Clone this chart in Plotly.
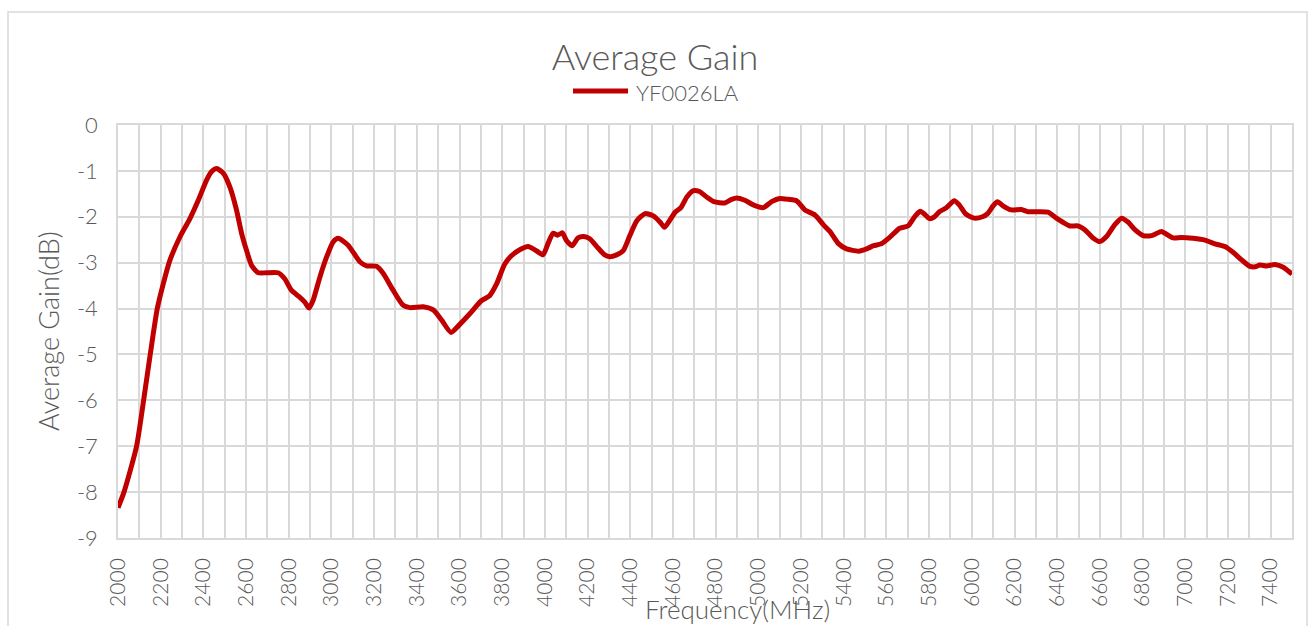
import plotly.graph_objects as go

freq_mhz = [2000, 2028, 2087, 2120, 2151, 2184, 2212, 2243, 2290, 2337, 2376, 2415, 2438, 2462,
            2493, 2524, 2555, 2579, 2602, 2626, 2657, 2696, 2750, 2781, 2812, 2851, 2875, 2895, 2914,
            2946, 2977, 3008, 3031, 3078, 3133, 3164, 3211, 3242, 3289, 3336, 3368, 3430, 3477, 3516,
            3560, 3600, 3647, 3702, 3741, 3773, 3812, 3843, 3882, 3921, 3960, 3991, 4014, 4038, 4060,
            4082, 4100, 4128, 4155, 4182, 4210, 4249, 4280, 4304, 4336, 4367, 4398, 4430, 4469, 4508,
            4540, 4560, 4579, 4610, 4637, 4665, 4696, 4724, 4758, 4792, 4843, 4875, 4898, 4937, 4976,
            5023, 5062, 5100, 5140, 5179, 5218, 5265, 5304, 5335, 5374, 5413, 5470, 5507, 5540, 5576,
            5615, 5662, 5701, 5732, 5758, 5778, 5801, 5825, 5848, 5879, 5918, 5941, 5972, 6011, 6050,
            6074, 6100, 6120, 6146, 6185, 6232, 6263, 6310, 6357, 6396, 6427, 6459, 6498, 6529, 6568,
            6600, 6631, 6670, 6702, 6733, 6764, 6803, 6842, 6889, 6912, 6943, 6982, 7037, 7092, 7139,
            7186, 7225, 7264, 7303, 7327, 7350, 7381, 7420, 7459, 7500]

gain_db = [-8.34, -8.0, -7.0, -6.0, -5.0, -4.0, -3.46, -2.95, -2.44, -2.04, -1.64, -1.2, -1.02, -0.95,
           -1.05, -1.35, -1.85, -2.36, -2.73, -3.06, -3.22, -3.22, -3.22, -3.35, -3.6, -3.75, -3.86, -3.99, -3.82,
           -3.31, -2.88, -2.55, -2.47, -2.62, -2.98, -3.07, -3.08, -3.23, -3.6, -3.93, -3.98, -3.96, -4.03, -4.25,
           -4.52, -4.35, -4.12, -3.83, -3.72, -3.47, -3.03, -2.85, -2.72, -2.65, -2.74, -2.83, -2.59, -2.36, -2.40,
           -2.35, -2.51, -2.63, -2.46, -2.43, -2.48, -2.68, -2.83, -2.87, -2.83, -2.74, -2.41, -2.09, -1.93, -1.98,
           -2.12, -2.23, -2.12, -1.9, -1.80, -1.57, -1.43, -1.45, -1.57, -1.67, -1.70, -1.62, -1.59, -1.64, -1.74,
           -1.80, -1.67, -1.60, -1.62, -1.65, -1.85, -1.96, -2.17, -2.32, -2.58, -2.70, -2.75, -2.70, -2.63, -2.59,
           -2.45, -2.25, -2.20, -2.0, -1.88, -1.94, -2.04, -2.0, -1.89, -1.81, -1.65, -1.74, -1.94, -2.03, -2.0,
           -1.93, -1.76, -1.67, -1.76, -1.85, -1.84, -1.89, -1.89, -1.90, -2.03, -2.12, -2.20, -2.20, -2.28, -2.46,
           -2.54, -2.43, -2.17, -2.03, -2.12, -2.28, -2.41, -2.41, -2.32, -2.38, -2.46, -2.45, -2.47, -2.51, -2.59,
           -2.65, -2.78, -2.94, -3.08, -3.09, -3.05, -3.07, -3.04, -3.10, -3.25]

series_name = "YF0026LA"
x_grid_vals = list(range(2000, 7501, 100))
x_tick_text = [str(v) if (v % 200 == 0 and v < 7500) else "" for v in x_grid_vals]
y_tick_vals = list(range(-9, 1))
y_tick_text = [str(v) for v in y_tick_vals]

W, H = 1310, 626
L, R, T, B = 118, 18, 125, 88
PW, PH = W - L - R, H - T - B


def px(xp):
    return (xp - L) / PW


def py(yp):
    return (H - B - yp) / PH


FONT = "Lato"
WT = 300
GRAY = "#595959"
GRID = "#d9d9d9"
RED = "#C00000"

fig = go.Figure()
fig.add_trace(go.Scatter(
    x=freq_mhz, y=gain_db, mode="lines", name=series_name, showlegend=False,
    line=dict(color=RED, width=5, shape="spline", smoothing=0.6),
))

fig.update_layout(
    width=W, height=H,
    margin=dict(l=L, r=R, t=T, b=B),
    paper_bgcolor="white", plot_bgcolor="white",
    font=dict(family=FONT, color=GRAY, size=21, weight=WT),
    title=dict(text="Average Gain", x=0.5, xanchor="center", xref="container",
               y=1 - 57 / H, yanchor="middle", yref="container",
               font=dict(family=FONT, size=36, color=GRAY, weight=WT)),
    showlegend=False,
    xaxis=dict(range=[2000, 7500], tickmode="array", tickvals=x_grid_vals, ticktext=x_tick_text,
               tickangle=-90, showgrid=True, gridcolor=GRID, gridwidth=1.5,
               showline=True, linecolor=GRID, linewidth=1.5, mirror=True,
               zeroline=False, ticks="", ticklabelstandoff=10,
               tickfont=dict(family=FONT, size=21, color=GRAY, weight=WT)),
    yaxis=dict(range=[-9, 0], tickmode="array", tickvals=y_tick_vals, ticktext=y_tick_text,
               showgrid=True, gridcolor=GRID, gridwidth=1.5,
               showline=True, linecolor=GRID, linewidth=1.5, mirror=True,
               zeroline=False, ticks="", ticklabelstandoff=14,
               tickfont=dict(family=FONT, size=22, color=GRAY, weight=WT)),
    annotations=[
        dict(text="Frequency(MHz)", xref="paper", yref="paper", x=px(737), y=py(609),
             xanchor="center", yanchor="middle", showarrow=False,
             font=dict(family=FONT, size=26, color=GRAY, weight=WT)),
        dict(text="Average Gain(dB)", xref="paper", yref="paper", x=px(48), y=py(331),
             xanchor="center", yanchor="middle", textangle=-90, showarrow=False,
             font=dict(family=FONT, size=27, color=GRAY, weight=WT)),
        dict(text=series_name, xref="paper", yref="paper", x=px(634), y=py(92),
             xanchor="left", yanchor="middle", showarrow=False,
             font=dict(family=FONT, size=22, color=GRAY, weight=WT)),
    ],
    shapes=[
        dict(type="rect", xref="paper", yref="paper", x0=px(8), x1=px(1307), y0=py(640), y1=py(12),
             line=dict(color=GRID, width=1.5), fillcolor="rgba(0,0,0,0)", layer="below"),
        dict(type="line", xref="paper", yref="paper", x0=px(573), x1=px(628), y0=py(91), y1=py(91),
             line=dict(color=RED, width=5)),
    ],
)

fig.write_html("out.html", config={"displayModeBar": False},
               post_script="document.body.style.margin='0px';document.body.style.overflow='hidden';")
